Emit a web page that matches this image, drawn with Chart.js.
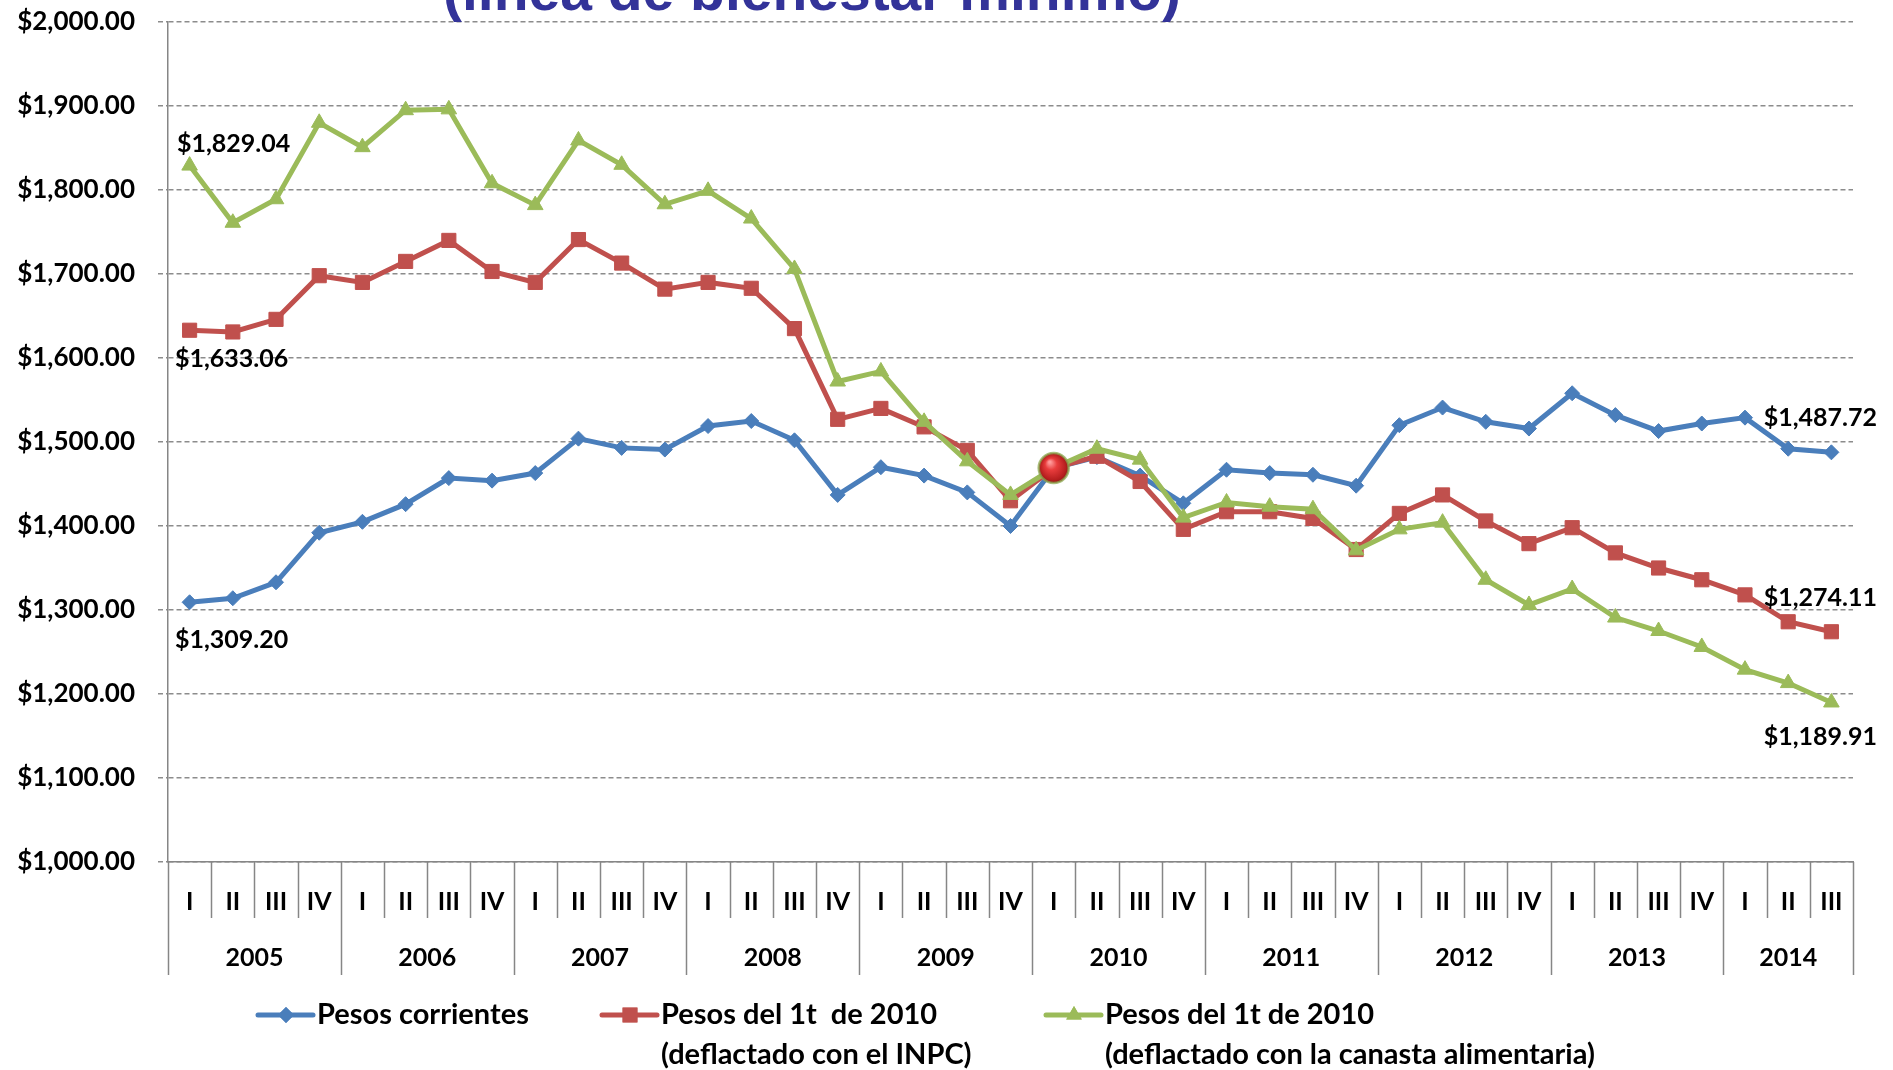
<!DOCTYPE html>
<html>
<head>
<meta charset="utf-8">
<script src="https://cdn.jsdelivr.net/npm/chart.js@4.4.1/dist/chart.umd.min.js"></script>
<style>
  html, body { margin: 0; padding: 0; background: #fff; }
  #wrap { width: 1893px; height: 1070px; }
</style>
</head>
<body>
<div id="wrap"><canvas id="chart" width="1893" height="1070"></canvas></div>
<script>
// categorias
const years = ['2005', '2006', '2007', '2008', '2009', '2010', '2011', '2012', '2013', '2014'];
const quarters = ['I', 'II', 'III', 'IV'];
const quartersLastYear = 3;

// series (pesos por persona al mes)
const pesosCorrientes = [1309.20, 1314, 1333, 1392, 1405, 1426, 1457, 1454, 1463, 1504, 1493, 1491,
  1519, 1525, 1502, 1437, 1470, 1460, 1440, 1400, 1469, 1482, 1460, 1427, 1467, 1463, 1461, 1448,
  1520, 1541, 1524, 1516, 1558, 1532, 1513, 1522, 1529, 1492, 1487.72];
const pesosINPC = [1633.06, 1631, 1646, 1698, 1690, 1715, 1740, 1703, 1690, 1741, 1713, 1682,
  1690, 1683, 1635, 1527, 1540, 1518, 1490, 1430, 1469, 1483, 1453, 1396, 1417, 1417, 1409, 1372,
  1415, 1437, 1406, 1379, 1398, 1368, 1350, 1336, 1318, 1286, 1274.11];
const pesosCanasta = [1829.04, 1761, 1789, 1880, 1851, 1895, 1896, 1808, 1782, 1859, 1830, 1783,
  1799, 1766, 1706, 1572, 1584, 1524, 1477, 1437, 1469, 1492, 1479, 1410, 1428, 1423, 1420, 1371,
  1396, 1404, 1336, 1306, 1325, 1291, 1275, 1256, 1229, 1213, 1189.91];

const seriesNames = [
  ['Pesos corrientes'],
  ['Pesos del 1t  de 2010', '(deflactado con el INPC)'],
  ['Pesos del 1t de 2010', '(deflactado con la canasta alimentaria)']
];
const titleText = '(línea de bienestar mínimo)';
const yMin = 1000, yMax = 2000, yStep = 100;
const baseIndex = 20; // 1t 2010

const colors = ['#4A7EBB', '#C0504D', '#9BBB59'];
const FONT = "Lato, 'Noto Sans', sans-serif";

const periods = [];
years.forEach((y, yi) => {
  const n = yi === years.length - 1 ? quartersLastYear : quarters.length;
  for (let q = 0; q < n; q++) periods.push({ year: y, quarter: quarters[q] });
});
const labels = periods.map(p => p.year + ' ' + p.quarter);

const money = v => '$' + v.toLocaleString('en-US', { minimumFractionDigits: 2, maximumFractionDigits: 2 });

// etiquetas de valor en el primer y ultimo punto
const valueLabels = [
  { series: 2, index: 0, dx: 44, dy: -22 },
  { series: 1, index: 0, dx: 42, dy: 29 },
  { series: 0, index: 0, dx: 42, dy: 38 },
  { series: 0, index: periods.length - 1, dx: -11, dy: -34 },
  { series: 1, index: periods.length - 1, dx: -11, dy: -34 },
  { series: 2, index: periods.length - 1, dx: -11, dy: 34 }
];

const axisPlugin = {
  id: 'periodAxis',
  afterDraw(chart) {
    const { ctx, chartArea } = chart;
    const x = chart.scales.x;
    const step = x.getPixelForValue(1) - x.getPixelForValue(0);
    const bottom = chartArea.bottom;
    ctx.save();
    ctx.strokeStyle = '#868686';
    ctx.lineWidth = 1.5;
    ctx.fillStyle = '#000';
    ctx.textAlign = 'center';
    ctx.textBaseline = 'middle';
    ctx.font = 'bold 25px ' + FONT;
    periods.forEach((p, i) => {
      const cx = x.getPixelForValue(i);
      ctx.fillText(p.quarter, cx, bottom + 40);
      const left = Math.round(cx - step / 2) + 0.5;
      const isYearStart = p.quarter === quarters[0];
      ctx.beginPath();
      ctx.moveTo(left, bottom);
      ctx.lineTo(left, bottom + (isYearStart ? 113 : 56));
      ctx.stroke();
    });
    const right = Math.round(x.getPixelForValue(periods.length - 1) + step / 2) + 0.5;
    ctx.beginPath();
    ctx.moveTo(right, bottom);
    ctx.lineTo(right, bottom + 113);
    ctx.stroke();
    years.forEach(y => {
      const idx = periods.map((p, i) => p.year === y ? i : -1).filter(i => i >= 0);
      const cx = (x.getPixelForValue(idx[0]) + x.getPixelForValue(idx[idx.length - 1])) / 2;
      ctx.fillText(y, cx, bottom + 96);
    });
    ctx.restore();
  }
};

const decorPlugin = {
  id: 'decor',
  afterDatasetsDraw(chart) {
    const { ctx } = chart;
    ctx.save();
    // punto base 1t 2010
    const pt = chart.getDatasetMeta(0).data[baseIndex];
    const r = 15;
    const g = ctx.createRadialGradient(pt.x - 4, pt.y - 6, 1, pt.x, pt.y, r);
    g.addColorStop(0, '#ff9a9a');
    g.addColorStop(0.35, '#e83c3c');
    g.addColorStop(0.85, '#b51e1e');
    g.addColorStop(1, '#8c1818');
    ctx.beginPath();
    ctx.arc(pt.x, pt.y, r, 0, Math.PI * 2);
    ctx.fillStyle = g;
    ctx.fill();
    ctx.lineWidth = 2.5;
    ctx.strokeStyle = 'rgba(140,170,80,0.75)';
    ctx.stroke();

    // etiquetas de valor
    ctx.fillStyle = '#000';
    ctx.font = 'bold 25px ' + FONT;
    ctx.textAlign = 'center';
    ctx.textBaseline = 'middle';
    valueLabels.forEach(l => {
      const el = chart.getDatasetMeta(l.series).data[l.index];
      const v = chart.data.datasets[l.series].data[l.index];
      ctx.fillText(money(v), el.x + l.dx, el.y + l.dy);
    });

    // titulo (cortado en la parte superior)
    ctx.fillStyle = '#333399';
    ctx.font = "bold 57px 'Liberation Sans', Arial, sans-serif";
    ctx.textAlign = 'left';
    ctx.textBaseline = 'alphabetic';
    ctx.fillText(titleText, 443, 10);
    ctx.restore();
  },
  afterDraw(chart) {
    const { ctx } = chart;
    const items = [
      { x: 258, style: 'rectRot', r: 8 },
      { x: 602, style: 'rect', r: 10.5 },
      { x: 1046, style: 'triangle', r: 9 }
    ];
    ctx.save();
    ctx.font = 'bold 29px ' + FONT;
    ctx.textBaseline = 'middle';
    ctx.textAlign = 'left';
    items.forEach((it, i) => {
      const y = 1015;
      ctx.strokeStyle = colors[i];
      ctx.lineWidth = 5;
      ctx.lineCap = 'round';
      ctx.beginPath();
      ctx.moveTo(it.x, y);
      ctx.lineTo(it.x + 55, y);
      ctx.stroke();
      ctx.fillStyle = colors[i];
      Chart.helpers.drawPoint(ctx, { pointStyle: it.style, radius: it.r, borderWidth: 0, rotation: 0 }, it.x + 28, y);
      ctx.fill();
      ctx.fillStyle = '#000';
      seriesNames[i].forEach((line, li) => ctx.fillText(line, it.x + 59, y + li * 40));
    });
    ctx.restore();
  }
};

function makeDataset(label, data, color, style, radius, order) {
  return {
    label, data,
    borderColor: color,
    backgroundColor: color,
    borderWidth: 5,
    pointStyle: style,
    pointRadius: radius,
    pointBorderWidth: 1,
    pointBackgroundColor: color,
    pointBorderColor: color,
    tension: 0,
    order
  };
}

function draw() {
  new Chart(document.getElementById('chart'), {
    type: 'line',
    data: {
      labels,
      datasets: [
        makeDataset(seriesNames[0].join(' '), pesosCorrientes, colors[0], 'rectRot', 7.5, 3),
        makeDataset(seriesNames[1].join(' '), pesosINPC, colors[1], 'rect', 10, 2),
        makeDataset(seriesNames[2].join(' '), pesosCanasta, colors[2], 'triangle', 9, 1)
      ]
    },
    options: {
      responsive: false,
      animation: false,
      devicePixelRatio: 1,
      events: [],
      layout: { padding: { left: 0, right: 40, top: 22, bottom: 208 } },
      plugins: { legend: { display: false }, tooltip: { enabled: false }, title: { display: false } },
      scales: {
        x: {
          offset: true,
          ticks: { display: false },
          grid: { display: false },
          border: { display: true, color: '#868686', width: 1.5 },
          afterFit: s => { s.height = 0; }
        },
        y: {
          min: yMin, max: yMax,
          ticks: {
            stepSize: yStep,
            padding: 23,
            color: '#000',
            font: { family: FONT, size: 26, weight: 'bold' },
            callback: v => money(v)
          },
          grid: {
            color: '#8c8c8c', lineWidth: 1.5, tickLength: 10,
            tickColor: '#8c8c8c', tickBorderDash: [5, 3]
          },
          border: { display: true, color: '#868686', width: 1.5, dash: [5, 3] },
          afterFit: s => { s.width = 168; s.paddingTop = 0; s.paddingBottom = 0; }
        }
      }
    },
    plugins: [axisPlugin, decorPlugin]
  });
}

if (document.fonts && document.fonts.load) {
  Promise.all([
    document.fonts.load('bold 24px Lato'),
    document.fonts.load("bold 57px 'Liberation Sans'")
  ]).then(draw, draw);
} else {
  draw();
}
</script>
</body>
</html>
